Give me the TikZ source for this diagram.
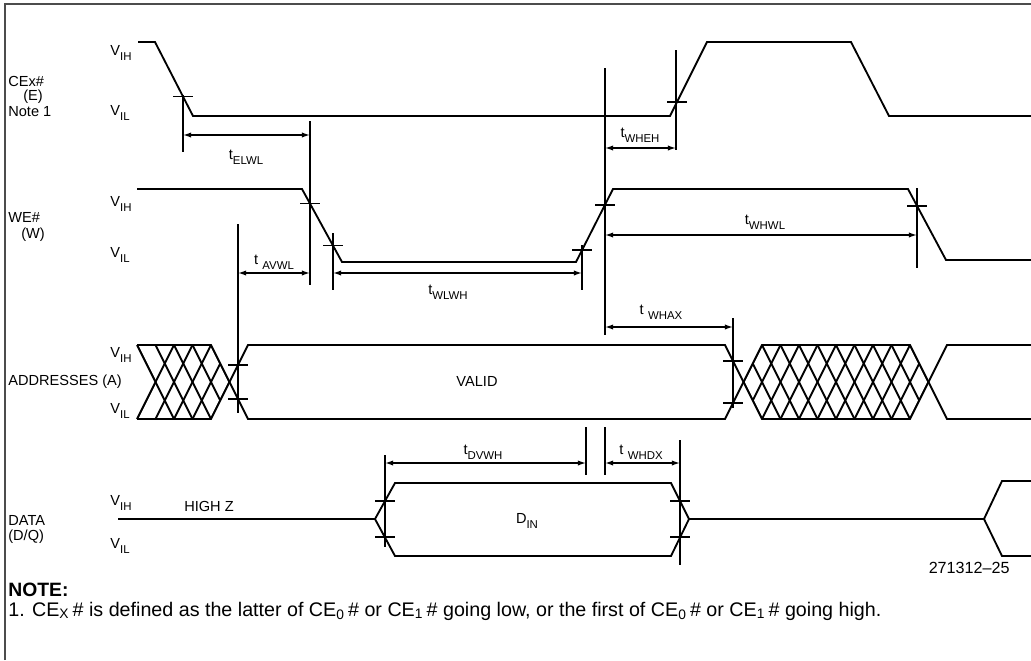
\documentclass[tikz,border=0pt]{standalone}
\usepackage{fontspec}
\setmainfont{Liberation Sans}
\usetikzlibrary{arrows.meta,positioning}

\newcommand{\lvsub}[2]{#1\raisebox{-0.7ex}{\fontsize{6.5}{7}\selectfont #2}}

\begin{document}
\begin{tikzpicture}[
    x=0.02cm, y=-0.02cm,
    wave/.style={line width=1.05pt},
    guide/.style={line width=0.8pt},
    span/.style={line width=0.8pt, {Latex[length=4.6pt,width=3pt]}-{Latex[length=4.6pt,width=3pt]}},
    tick mark/.style={line width=0.8pt},
    sig label/.style={font=\fontsize{8.3}{9.5}\selectfont, anchor=west, inner sep=0pt},
    lvl label/.style={font=\fontsize{8.3}{9}\selectfont, anchor=base west, inner sep=0pt},
    time label/.style={font=\fontsize{8.3}{9.5}\selectfont, inner sep=0pt}
  ]
  \useasboundingbox (0,0) rectangle (1031,660);
  \draw[black!70, line width=1.2pt] (5,660) -- (5,4) -- (1031,4);

  % signal names and levels
  \node[sig label] (ce name) at (8,81) {CEx\#};
  \node[sig label] (ce e) at (23,97) {(E)};
  \node[sig label] (ce note) at (8,112) {Note 1};
  \node[sig label] (we name) at (8,217) {WE\#};
  \node[sig label] (we w) at (21,235) {(W)};
  \node[sig label] (ad name) at (8,382) {ADDRESSES (A)};
  \node[sig label] (da name) at (8,520) {DATA};
  \node[sig label] (da dq) at (8,537) {(D/Q)};
  \foreach \name/\yh/\yl in {ce/55/115, we/206/257, ad/357/413, da/505/548}{
    \node[lvl label] (\name vih) at (110,\yh) {\lvsub{V}{IH}};
    \node[lvl label] (\name vil) at (110,\yl) {\lvsub{V}{IL}};
  }

  % CE# and WE#
  \draw[wave] (138,42) -- (155,42) -- (193,116) -- (670,116) -- (707,42) -- (851,42) -- (889,116) -- (1031,116);
  \draw[wave] (137,189) -- (302,189) -- (342,262) -- (576,262) -- (613,189) -- (908,189) -- (946,260) -- (1031,260);

  % addresses
  \begin{scope}
    \clip (137,345) -- (211,345) -- (229.5,382) -- (211,419) -- (137,419) -- (155.5,382) -- cycle;
    \foreach \k in {0,...,4}{
      \draw[wave] (137+18.5*\k,345) -- ++(37,74);
      \draw[wave] (137+18.5*\k,419) -- ++(37,-74);
    }
  \end{scope}
  \begin{scope}
    \clip (743.5,382) -- (762,345) -- (910,345) -- (928.5,382) -- (910,419) -- (762,419) -- cycle;
    \foreach \k in {0,...,10}{
      \draw[wave] (725+18.5*\k,345) -- ++(37,74);
      \draw[wave] (725+18.5*\k,419) -- ++(37,-74);
    }
  \end{scope}
  \draw[wave] (137,345) -- (155.5,382) -- (137,419);
  \draw[wave] (137,345) -- (211,345) -- (248,419) -- (725,419) -- (762,345) -- (910,345) -- (947,419) -- (1031,419);
  \draw[wave] (137,419) -- (211,419) -- (248,345) -- (725,345) -- (762,419) -- (910,419) -- (947,345) -- (1031,345);
  \node[time label] (valid) at (477,381) {VALID};

  % data
  \draw[wave] (118,519) -- (375,519) -- (395,483) -- (671,483) -- (689,519) -- (984,519) -- (1002,481) -- (1031,481);
  \draw[wave] (375,519) -- (395,556) -- (671,556) -- (689,519);
  \draw[wave] (984,519) -- (1002,556) -- (1031,556);
  \node[time label] (highz) at (209,506) {HIGH Z};
  \node[time label] (din) at (527,521) {\lvsub{D}{IN}};

  % reference lines
  \draw[guide] (183,95) -- (183,152);
  \draw[guide] (310,121) -- (310,285);
  \draw[guide] (238,224) -- (238,413);
  \draw[guide] (333,233) -- (333,290);
  \draw[guide] (582,245) -- (582,290);
  \draw[guide] (605,68) -- (605,335);
  \draw[guide] (676,50) -- (676,150);
  \draw[guide] (917,188) -- (917,268);
  \draw[guide] (733,318) -- (733,408);
  \draw[guide] (385,455) -- (385,547);
  \draw[guide] (586,427) -- (586,475);
  \draw[guide] (605,427) -- (605,475);
  \draw[guide] (680,440) -- (680,565);
  \foreach \p in {(183,96.5),(677,102),(310,203.6),(333,245.6),(582,250),(605,204.8),(917,205.8),
                  (238,399),(238,365),(733,403),(733,361),(385,501),(385,537),(680,501),(680,537)}
    \draw[tick mark] \p ++(-10,0) -- ++(20,0);

  % timing parameters
  \draw[span] (183,135) -- (310,135);
  \draw[span] (605,148) -- (676,148);
  \draw[span] (238,273) -- (310,273);
  \draw[span] (333,273) -- (582,273);
  \draw[span] (605,235) -- (917,235);
  \draw[span] (605,327) -- (733,327);
  \draw[span] (385,463) -- (586,463);
  \draw[span] (605,463) -- (680,463);
  \node[time label] (elwl) at (246,157) {\lvsub{t}{ELWL}};
  \node[time label] (wheh) at (640,135) {\lvsub{t}{WHEH}};
  \node[time label] (avwl) at (274,262) {\lvsub{t\hspace{2.5pt}}{AVWL}};
  \node[time label] (wlwh) at (448,292) {\lvsub{t}{WLWH}};
  \node[time label] (whwl) at (765,222) {\lvsub{t}{WHWL}};
  \node[time label] (whax) at (661,312) {\lvsub{t\hspace{2.5pt}}{WHAX}};
  \node[time label] (dvwh) at (483,452) {\lvsub{t}{DVWH}};
  \node[time label] (whdx) at (641,452) {\lvsub{t\hspace{2.5pt}}{WHDX}};

  % figure number and note
  \node[font=\fontsize{9.2}{10}\selectfont, anchor=east, inner sep=0pt] (fig no) at (1010,568) {271312--25};
  \node[font=\fontsize{11}{12}\selectfont\bfseries, anchor=west, inner sep=0pt] (note head) at (8,590) {NOTE:};
  \node[font=\fontsize{11.2}{12}\selectfont, anchor=west, inner sep=0pt] (note text) at (8,611)
    {1. CE\textsubscript{X}\,\# is defined as the latter of CE\textsubscript{0}\,\# or CE\textsubscript{1}\,\# going low, or the first of CE\textsubscript{0}\,\# or CE\textsubscript{1}\,\# going high.};
\end{tikzpicture}
\end{document}
